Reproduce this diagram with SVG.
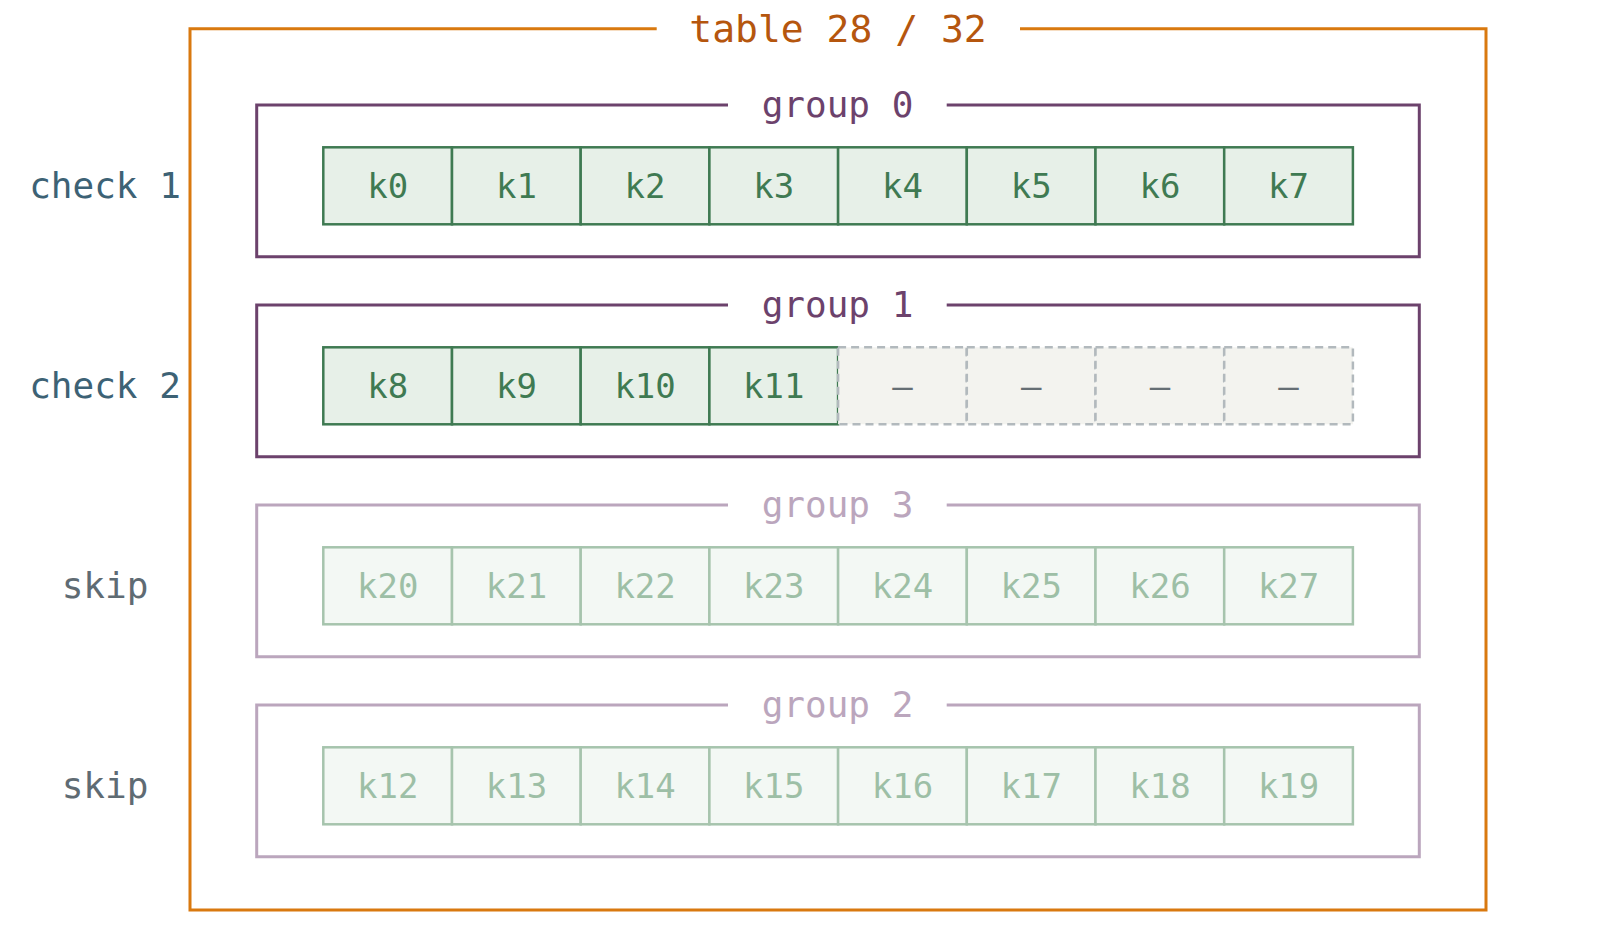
<svg xmlns="http://www.w3.org/2000/svg" width="1600" height="929" viewBox="0 0 1600 929">
<style>
text{font-family:"DejaVu Sans Mono","Liberation Mono",monospace;text-anchor:middle}
.frame{fill:none;stroke:#d9790f;stroke-width:3}
.title{fill:#b5560e;font-size:38px}
.grp{fill:none;stroke:#6c426c;stroke-width:3}
.grpf{fill:none;stroke:#bba6bd;stroke-width:3}
.glab{fill:#6c426c;font-size:36px}
.glabf{fill:#bba6bd;font-size:36px}
.cell rect{fill:#e7f0e8;stroke:#3f7a52;stroke-width:2.5}
.cell text{fill:#3f7a52;font-size:34px}
.fcell rect{fill:#f3f8f4;stroke:#a6c4ad;stroke-width:2.5}
.fcell text{fill:#9dbfa6;font-size:34px}
.ecell rect{fill:#f3f3ef;stroke:#b2b9bd;stroke-width:2.5;stroke-dasharray:8 5}
.ecell text{fill:#656e74;font-size:34px}
.chk{fill:#3d6275;font-size:36px}
.skp{fill:#5f6b73;font-size:36px}
</style>
<rect width="1600" height="929" fill="#ffffff"/>
<g id="table">
<path class="frame" d="M656.7,28.7 H190 V910 H1486 V28.7 H1020"/>
<text class="title" x="838" y="41.7">table 28 / 32</text>
</g>
<g id="group0">
<path class="grp" d="M728,105 H256.7 V256.7 H1419.3 V105 H946.7"/>
<text class="glab" x="837.5" y="117">group 0</text>
<g class="cell"><rect x="323.3" y="147.3" width="128.7" height="77"/><text x="387.7" y="197.5">k0</text></g>
<g class="cell"><rect x="452" y="147.3" width="128.7" height="77"/><text x="516.4" y="197.5">k1</text></g>
<g class="cell"><rect x="580.7" y="147.3" width="128.7" height="77"/><text x="645.1" y="197.5">k2</text></g>
<g class="cell"><rect x="709.4" y="147.3" width="128.7" height="77"/><text x="773.8" y="197.5">k3</text></g>
<g class="cell"><rect x="838.1" y="147.3" width="128.7" height="77"/><text x="902.5" y="197.5">k4</text></g>
<g class="cell"><rect x="966.8" y="147.3" width="128.7" height="77"/><text x="1031.2" y="197.5">k5</text></g>
<g class="cell"><rect x="1095.5" y="147.3" width="128.7" height="77"/><text x="1159.9" y="197.5">k6</text></g>
<g class="cell"><rect x="1224.2" y="147.3" width="128.7" height="77"/><text x="1288.6" y="197.5">k7</text></g>
</g>
<g id="group1">
<path class="grp" d="M728,305 H256.7 V456.7 H1419.3 V305 H946.7"/>
<text class="glab" x="837.5" y="317">group 1</text>
<g class="cell"><rect x="323.3" y="347.3" width="128.7" height="77"/><text x="387.7" y="397.5">k8</text></g>
<g class="cell"><rect x="452" y="347.3" width="128.7" height="77"/><text x="516.4" y="397.5">k9</text></g>
<g class="cell"><rect x="580.7" y="347.3" width="128.7" height="77"/><text x="645.1" y="397.5">k10</text></g>
<g class="cell"><rect x="709.4" y="347.3" width="128.7" height="77"/><text x="773.8" y="397.5">k11</text></g>
<g class="ecell"><rect x="838.1" y="347.3" width="128.7" height="77"/><text x="902.5" y="397.5">–</text></g>
<g class="ecell"><rect x="966.8" y="347.3" width="128.7" height="77"/><text x="1031.2" y="397.5">–</text></g>
<g class="ecell"><rect x="1095.5" y="347.3" width="128.7" height="77"/><text x="1159.9" y="397.5">–</text></g>
<g class="ecell"><rect x="1224.2" y="347.3" width="128.7" height="77"/><text x="1288.6" y="397.5">–</text></g>
</g>
<g id="group3">
<path class="grpf" d="M728,505 H256.7 V656.7 H1419.3 V505 H946.7"/>
<text class="glabf" x="837.5" y="517">group 3</text>
<g class="fcell"><rect x="323.3" y="547.3" width="128.7" height="77"/><text x="387.7" y="597.5">k20</text></g>
<g class="fcell"><rect x="452" y="547.3" width="128.7" height="77"/><text x="516.4" y="597.5">k21</text></g>
<g class="fcell"><rect x="580.7" y="547.3" width="128.7" height="77"/><text x="645.1" y="597.5">k22</text></g>
<g class="fcell"><rect x="709.4" y="547.3" width="128.7" height="77"/><text x="773.8" y="597.5">k23</text></g>
<g class="fcell"><rect x="838.1" y="547.3" width="128.7" height="77"/><text x="902.5" y="597.5">k24</text></g>
<g class="fcell"><rect x="966.8" y="547.3" width="128.7" height="77"/><text x="1031.2" y="597.5">k25</text></g>
<g class="fcell"><rect x="1095.5" y="547.3" width="128.7" height="77"/><text x="1159.9" y="597.5">k26</text></g>
<g class="fcell"><rect x="1224.2" y="547.3" width="128.7" height="77"/><text x="1288.6" y="597.5">k27</text></g>
</g>
<g id="group2">
<path class="grpf" d="M728,705 H256.7 V856.7 H1419.3 V705 H946.7"/>
<text class="glabf" x="837.5" y="717">group 2</text>
<g class="fcell"><rect x="323.3" y="747.3" width="128.7" height="77"/><text x="387.7" y="797.5">k12</text></g>
<g class="fcell"><rect x="452" y="747.3" width="128.7" height="77"/><text x="516.4" y="797.5">k13</text></g>
<g class="fcell"><rect x="580.7" y="747.3" width="128.7" height="77"/><text x="645.1" y="797.5">k14</text></g>
<g class="fcell"><rect x="709.4" y="747.3" width="128.7" height="77"/><text x="773.8" y="797.5">k15</text></g>
<g class="fcell"><rect x="838.1" y="747.3" width="128.7" height="77"/><text x="902.5" y="797.5">k16</text></g>
<g class="fcell"><rect x="966.8" y="747.3" width="128.7" height="77"/><text x="1031.2" y="797.5">k17</text></g>
<g class="fcell"><rect x="1095.5" y="747.3" width="128.7" height="77"/><text x="1159.9" y="797.5">k18</text></g>
<g class="fcell"><rect x="1224.2" y="747.3" width="128.7" height="77"/><text x="1288.6" y="797.5">k19</text></g>
</g>
<g id="labels">
<text class="chk" x="105" y="197.5">check 1</text>
<text class="chk" x="105" y="397.5">check 2</text>
<text class="skp" x="105" y="597.5">skip</text>
<text class="skp" x="105" y="797.5">skip</text>
</g>
<g id="connectors"></g>
</svg>
